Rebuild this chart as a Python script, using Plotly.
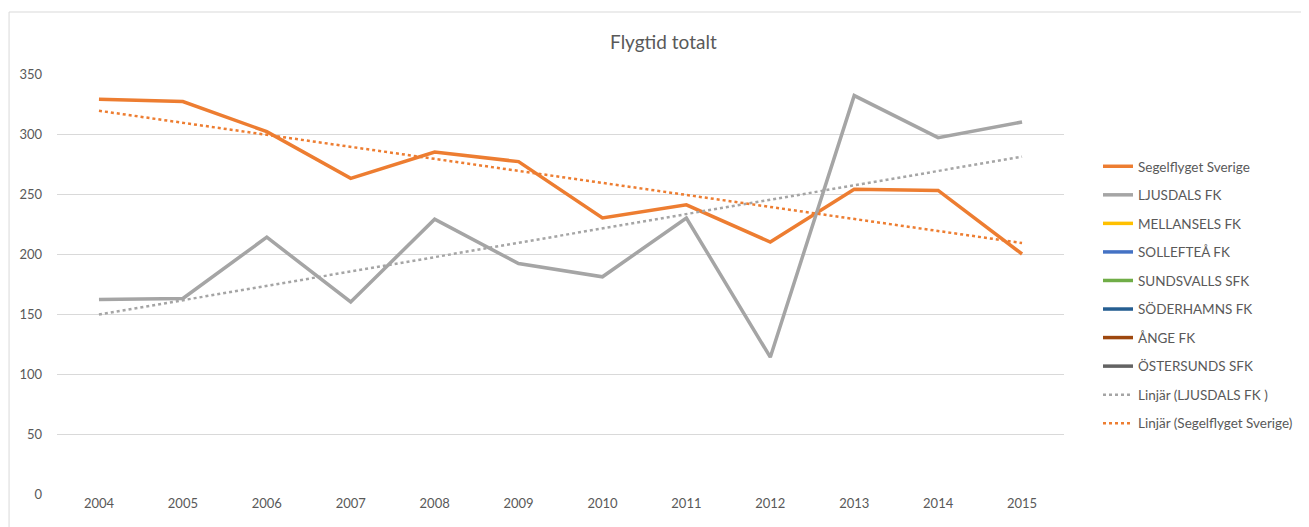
import plotly.graph_objects as go
import numpy as np

years = [2004, 2005, 2006, 2007, 2008, 2009, 2010, 2011, 2012, 2013, 2014, 2015]
categories = [str(y) for y in years]
segelflyget = [329, 327, 302, 263, 285, 277, 230, 241, 210, 254, 253, 200]
ljusdals = [162, 163, 214, 160, 229, 192, 181, 230, 114, 332, 297, 310]
empty_series = ["MELLANSELS FK", "SOLLEFTEÅ FK", "SUNDSVALLS SFK", "SÖDERHAMNS FK", "ÅNGE FK", "ÖSTERSUNDS SFK"]
empty_colors = ["#FFC000", "#4472C4", "#70AD47", "#255E91", "#9E480E", "#636363"]
y_ticks = [0, 50, 100, 150, 200, 250, 300, 350]

# page has an 8px body margin; figure coordinates = page coordinates - 8
OFF = 8
W, H = 1301, 519
ml, mr, mt, mb = 57 - OFF, 244, 74 - OFF, 33

def trend(vals):
    x = np.arange(len(vals))
    a, b = np.polyfit(x, vals, 1)
    return list(a * x + b)

fig = go.Figure()
fig.add_trace(go.Scatter(x=categories, y=segelflyget, mode="lines", name="Segelflyget Sverige",
                         line=dict(color="#ED7D31", width=3.5), legendgroup="a"))
fig.add_trace(go.Scatter(x=categories, y=ljusdals, mode="lines", name="LJUSDALS FK",
                         line=dict(color="#A5A5A5", width=3.5), legendgroup="b"))
for i, (n, c) in enumerate(zip(empty_series, empty_colors)):
    fig.add_trace(go.Scatter(x=categories, y=[None] * len(categories), mode="lines", name=n,
                             line=dict(color=c, width=3.5), legendgroup="e%d" % i))
fig.add_trace(go.Scatter(x=categories, y=trend(ljusdals), mode="lines", name="Linjär (LJUSDALS FK )",
                         line=dict(color="#A5A5A5", width=2.5, dash="dot"), legendgroup="t1"))
fig.add_trace(go.Scatter(x=categories, y=trend(segelflyget), mode="lines", name="Linjär (Segelflyget Sverige)",
                         line=dict(color="#ED7D31", width=2.5, dash="dot"), legendgroup="t2"))

pw = W - ml - mr
ph = H - mt - mb
def px_x(p):
    return (p - OFF - ml) / pw
def px_y(p):
    return (H - mb - (p - OFF)) / ph

fig.update_layout(
    width=W, height=H,
    margin=dict(l=ml, r=mr, t=mt, b=mb),
    paper_bgcolor="white", plot_bgcolor="white",
    font=dict(family="Lato, Open Sans, sans-serif", color="#595959", size=13),
    title=dict(text="Flygtid totalt", x=px_x(664), xanchor="center", y=1 - (42 - OFF) / H, yanchor="middle",
               xref="paper", font=dict(size=19, color="#595959")),
    xaxis=dict(type="category", showgrid=False, zeroline=False, showline=False, ticks="",
               tickfont=dict(size=13, color="#595959"), range=[-0.5, 11.5]),
    yaxis=dict(range=[0, 350], tickvals=y_ticks, showgrid=True, gridcolor="#D9D9D9", gridwidth=1,
               zeroline=False, showline=False, ticks="", ticklabelstandoff=14,
               tickfont=dict(size=13, color="#595959")),
    legend=dict(x=px_x(1098), xanchor="left", y=px_y(151), yanchor="top",
                tracegroupgap=8, font=dict(size=13.5, color="#595959"),
                itemwidth=30, bgcolor="rgba(0,0,0,0)"),
    showlegend=True,
    shapes=[
        dict(type="line", xref="paper", yref="paper", x0=px_x(9), x1=px_x(9), y0=px_y(12), y1=px_y(540),
             line=dict(color="#D9D9D9", width=1)),
        dict(type="line", xref="paper", yref="paper", x0=px_x(9), x1=px_x(1320), y0=px_y(12), y1=px_y(12),
             line=dict(color="#D9D9D9", width=1)),
    ],
)

fig.write_html("out.html")
